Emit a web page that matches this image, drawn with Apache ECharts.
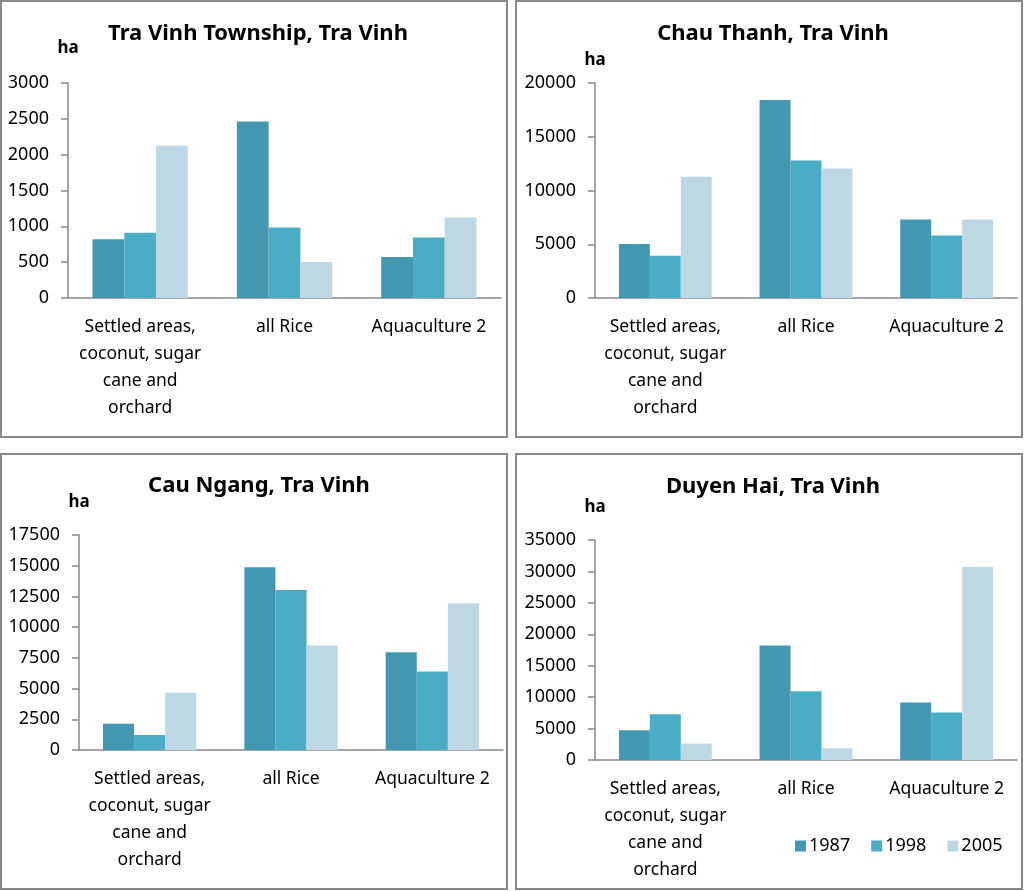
<!DOCTYPE html>
<html>
<head>
<meta charset="utf-8">
<script src="https://cdn.jsdelivr.net/npm/echarts@6/dist/echarts.min.js"></script>
<style>
html,body{margin:0;padding:0;background:#fff;}
#c{width:1024px;height:891px;}
</style>
</head>
<body>
<div id="c"></div>
<script>
const categories = ['Settled areas, coconut, sugar cane and orchard', 'all Rice', 'Aquaculture 2'];
const categoryLabels = ['Settled areas,\ncoconut, sugar\ncane and\norchard', 'all Rice', 'Aquaculture 2'];
const years = ['1987', '1998', '2005'];
const panelTitles = ['Tra Vinh Township, Tra Vinh', 'Chau Thanh, Tra Vinh', 'Cau Ngang, Tra Vinh', 'Duyen Hai, Tra Vinh'];
const unitLabel = 'ha';

// values per panel and year, over categories
const township1987 = [820, 2463, 573];
const township1998 = [912, 982, 843];
const township2005 = [2124, 503, 1122];

const chauThanh1987 = [5030, 18420, 7300];
const chauThanh1998 = [3940, 12800, 5810];
const chauThanh2005 = [11270, 12050, 7300];

const cauNgang1987 = [2140, 14870, 7960];
const cauNgang1998 = [1220, 13030, 6390];
const cauNgang2005 = [4660, 8510, 11950];

const duyenHai1987 = [4730, 18220, 9140];
const duyenHai1998 = [7280, 10940, 7540];
const duyenHai2005 = [2600, 1860, 30700];

const yMax = [3000, 20000, 17500, 35000];
const yStep = [500, 5000, 2500, 5000];

const panelData = [
  [township1987, township1998, township2005],
  [chauThanh1987, chauThanh1998, chauThanh2005],
  [cauNgang1987, cauNgang1998, cauNgang2005],
  [duyenHai1987, duyenHai1998, duyenHai2005]
];

const colors = ['#4397B0', '#4BACC6', '#BDD8E4'];
const axisGray = '#898989';
const fontFam = '"Noto Sans", "Open Sans", sans-serif';

const grids = [
  {left: 68, right: 523, top: 83, bottom: 593},
  {left: 595, right: 7, top: 83, bottom: 593},
  {left: 79, right: 521, top: 535, bottom: 141},
  {left: 595, right: 7, top: 540, bottom: 131}
];
const nameGaps = [26, 14, 24, 24];
const titlePos = [
  {left: 253, top: 18},
  {left: 768, top: 18},
  {left: 254, top: 470},
  {left: 768, top: 471}
];
const boxes = [
  {x: 1, y: 1, width: 506, height: 436},
  {x: 516, y: 1, width: 506, height: 436},
  {x: 1, y: 454, width: 506, height: 435},
  {x: 516, y: 454, width: 506, height: 435}
];

const option = {
  animation: false,
  textStyle: {fontFamily: fontFam},
  title: panelTitles.map((t, i) => ({
    text: t,
    left: titlePos[i].left,
    top: titlePos[i].top,
    textAlign: 'center',
    textStyle: {fontFamily: fontFam, fontSize: 22, fontWeight: 'bold', color: '#000'}
  })),
  legend: {
    data: years,
    left: 790,
    top: 832,
    icon: 'rect',
    itemWidth: 11,
    itemHeight: 11,
    itemGap: 21,
    textStyle: {fontFamily: fontFam, fontSize: 18, color: '#000', padding: [0, 0, 0, -2]}
  },
  graphic: boxes.map(b => ({
    type: 'rect',
    shape: b,
    style: {fill: 'none', stroke: axisGray, lineWidth: 2},
    silent: true,
    z: 100
  })),
  grid: grids,
  xAxis: grids.map((g, i) => ({
    type: 'category',
    gridIndex: i,
    data: categories,
    axisLine: {lineStyle: {color: axisGray, width: 1.5}},
    axisTick: {show: false},
    axisLabel: {
      interval: 0,
      margin: 16,
      fontFamily: fontFam,
      fontSize: 17.5,
      color: '#000',
      lineHeight: 27,
      formatter: (v) => categoryLabels[categories.indexOf(v)]
    }
  })),
  yAxis: grids.map((g, i) => ({
    type: 'value',
    gridIndex: i,
    min: 0,
    max: yMax[i],
    interval: yStep[i],
    name: unitLabel,
    nameLocation: 'end',
    nameGap: nameGaps[i],
    nameTextStyle: {fontFamily: fontFam, fontSize: 17, fontWeight: 'bold', color: '#000', align: 'center'},
    axisLine: {show: true, lineStyle: {color: axisGray, width: 1.5}},
    axisTick: {show: true, inside: false, length: 7, lineStyle: {color: axisGray, width: 1.5}},
    splitLine: {show: false},
    axisLabel: {margin: 19, fontFamily: fontFam, fontSize: 18, color: '#000', formatter: (v) => String(v)}
  })),
  series: []
};

panelData.forEach((pd, i) => {
  pd.forEach((vals, j) => {
    option.series.push({
      name: years[j],
      type: 'bar',
      xAxisIndex: i,
      yAxisIndex: i,
      data: vals,
      barGap: '0%',
      barCategoryGap: '34%',
      itemStyle: {color: colors[j]}
    });
  });
});

const chart = echarts.init(document.getElementById('c'), null, {renderer: 'canvas'});
chart.setOption(option);
</script>
</body>
</html>
